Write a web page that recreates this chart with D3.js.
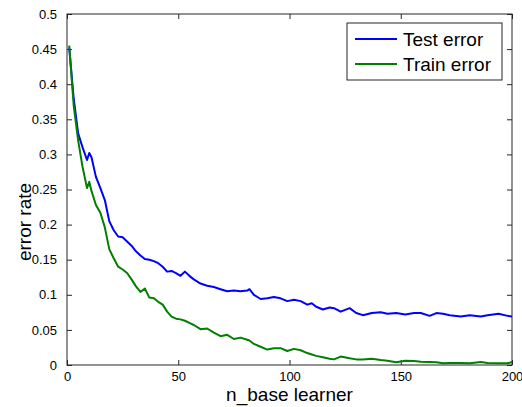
<!DOCTYPE html>
<html>
<head>
<meta charset="utf-8">
<script src="https://cdn.jsdelivr.net/npm/d3@7"></script>
<style>
    body { margin: 0; background: #fff; }
    text { font-family: "Liberation Sans", Arial, sans-serif; fill: #000; }
</style>
</head>
<body>
<svg id="chart" width="522" height="407"></svg>
<script>
// number of base learners at which the curves were read
let nLearner = [1, 3, 5, 7, 9, 10, 11, 13, 15, 17, 19, 21, 23, 25, 27, 29, 31, 33, 35, 37, 39,
    41, 43, 45, 47, 49, 51, 53, 55, 57, 60, 63, 66, 69, 72, 75, 78, 81, 82, 84, 87, 90, 93, 96,
    99, 102, 105, 108, 110, 112, 115, 118, 120, 123, 127, 130, 133, 137, 141, 144, 148, 152,
    156, 159, 163, 166, 169, 172, 177, 181, 186, 189, 194, 198, 200];

let testError = [0.452, 0.380, 0.330, 0.310, 0.292, 0.302, 0.296, 0.268, 0.252, 0.235, 0.205,
    0.192, 0.183, 0.182, 0.176, 0.170, 0.162, 0.156, 0.151, 0.150, 0.148, 0.145, 0.140, 0.133,
    0.134, 0.131, 0.127, 0.133, 0.127, 0.122, 0.116, 0.113, 0.111, 0.108, 0.105, 0.106, 0.105,
    0.106, 0.108, 0.100, 0.094, 0.095, 0.097, 0.095, 0.091, 0.093, 0.091, 0.086, 0.088, 0.083,
    0.079, 0.082, 0.081, 0.076, 0.081, 0.074, 0.071, 0.074, 0.075, 0.073, 0.074, 0.072, 0.074,
    0.074, 0.070, 0.074, 0.073, 0.071, 0.069, 0.071, 0.069, 0.071, 0.073, 0.070, 0.069];

let trainError = [0.455, 0.370, 0.320, 0.282, 0.252, 0.261, 0.248, 0.228, 0.217, 0.196, 0.165,
    0.152, 0.140, 0.136, 0.131, 0.122, 0.112, 0.104, 0.109, 0.096, 0.095, 0.090, 0.086, 0.076,
    0.069, 0.066, 0.065, 0.063, 0.060, 0.057, 0.051, 0.052, 0.046, 0.041, 0.043, 0.037, 0.039,
    0.036, 0.035, 0.030, 0.026, 0.022, 0.024, 0.024, 0.020, 0.023, 0.021, 0.017, 0.015, 0.013,
    0.011, 0.009, 0.008, 0.012, 0.0095, 0.008, 0.008, 0.009, 0.007, 0.006, 0.004, 0.006, 0.0057,
    0.0047, 0.0043, 0.004, 0.0024, 0.003, 0.003, 0.0024, 0.0043, 0.003, 0.0024, 0.0024, 0.0043];

let xTicks = [0, 50, 100, 150, 200];
let yTicks = [0, 0.05, 0.1, 0.15, 0.2, 0.25, 0.3, 0.35, 0.4, 0.45, 0.5];
let seriesNames = ["Test error", "Train error"];
let seriesColors = ["#0000ff", "#008000"];

let svg = d3.select("#chart");
let mLeft = 67, mRight = 512, mTop = 14, mBottom = 365;

let x = d3.scaleLinear().domain([0, 200]).range([mLeft, mRight]);
let y = d3.scaleLinear().domain([0, 0.5]).range([mBottom, mTop]);

// MATLAB style box: ticks point inwards on all four sides
svg.append("g")
    .attr("transform", "translate(0," + mBottom + ")")
    .call(d3.axisBottom(x).tickValues(xTicks).tickSize(-5).tickPadding(7).tickFormat(d3.format("d")))
    .call(g => g.select(".domain").remove());
svg.append("g")
    .attr("transform", "translate(0," + mTop + ")")
    .call(d3.axisTop(x).tickValues(xTicks).tickSize(-5).tickFormat(""))
    .call(g => g.select(".domain").remove());
svg.append("g")
    .attr("transform", "translate(" + mLeft + ",0)")
    .call(d3.axisLeft(y).tickValues(yTicks).tickSize(-5).tickPadding(10).tickFormat(d => String(+d.toFixed(2))))
    .call(g => g.select(".domain").remove());
svg.append("g")
    .attr("transform", "translate(" + mRight + ",0)")
    .call(d3.axisRight(y).tickValues(yTicks).tickSize(-5).tickFormat(""))
    .call(g => g.select(".domain").remove());

svg.selectAll(".tick line").attr("stroke", "#262626");
svg.selectAll(".tick text")
    .style("font-size", "13px")
    .style("font-family", "'Liberation Sans', Arial, sans-serif")
    .attr("fill", "#000");

svg.append("rect")
    .attr("x", mLeft).attr("y", mTop)
    .attr("width", mRight - mLeft).attr("height", mBottom - mTop)
    .attr("fill", "none")
    .attr("stroke", "#262626")
    .attr("stroke-width", 1);

let line = d3.line()
    .x((d, i) => x(nLearner[i]))
    .y(d => y(d));

[testError, trainError].forEach(function(vals, k) {
    svg.append("path")
        .datum(vals)
        .attr("d", line)
        .attr("fill", "none")
        .attr("stroke", seriesColors[k])
        .attr("stroke-width", 2)
        .attr("stroke-linejoin", "round");
});

// axis titles
svg.append("text")
    .attr("x", (mLeft + mRight) / 2)
    .attr("y", 401)
    .attr("text-anchor", "middle")
    .style("font-size", "19px")
    .text("n_base learner");

svg.append("text")
    .attr("transform", "translate(31,222) rotate(-90)")
    .attr("text-anchor", "middle")
    .style("font-size", "19px")
    .text("error rate");

// legend
let legend = svg.append("g").attr("transform", "translate(347,23)");
legend.append("rect")
    .attr("width", 155).attr("height", 57)
    .attr("fill", "#fff")
    .attr("stroke", "#262626");
seriesNames.forEach(function(name, k) {
    legend.append("line")
        .attr("x1", 8).attr("x2", 50)
        .attr("y1", 16 + k * 25).attr("y2", 16 + k * 25)
        .attr("stroke", seriesColors[k])
        .attr("stroke-width", 2);
    legend.append("text")
        .attr("x", 56)
        .attr("y", 23 + k * 25)
        .style("font-size", "19px")
        .text(name);
});
</script>
</body>
</html>
